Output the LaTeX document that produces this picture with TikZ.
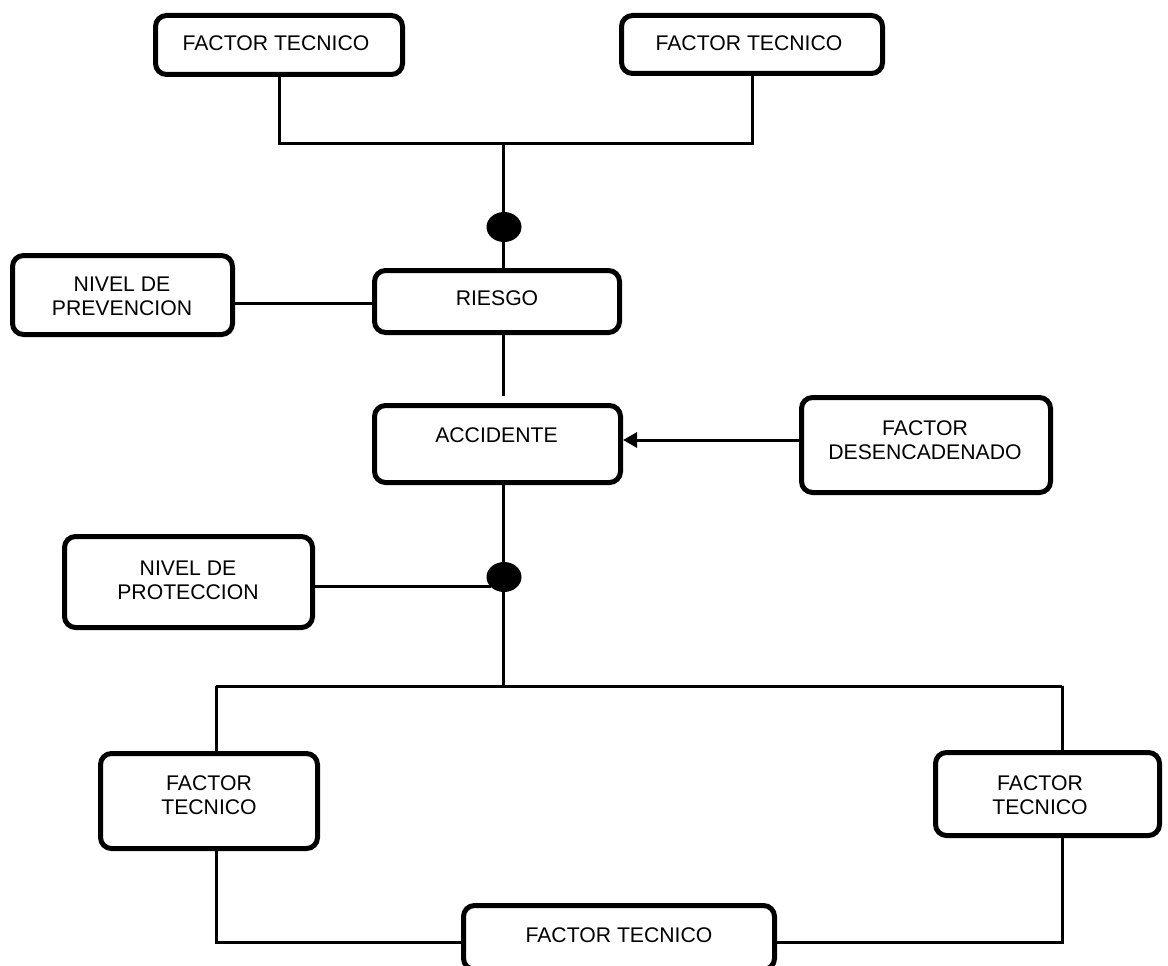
\documentclass[tikz,border=0pt]{standalone}
\usepackage{fontspec}
\setmainfont{Liberation Sans}
\usetikzlibrary{arrows.meta,shapes.geometric,backgrounds}
\begin{document}
\begin{tikzpicture}[x=1pt,y=-1pt,
  box/.style={draw=black,line width=5pt,rounded corners=11pt,fill=white,inner sep=0pt},
  txt/.style={inner sep=0pt,align=center,font=\fontsize{21.2}{24}\selectfont},
  conn/.style={draw=black,line width=3pt},
  dotnode/.style={ellipse,fill=black,inner sep=0pt,minimum width=35pt,minimum height=30pt},
  arr/.style={conn,-{Triangle[length=14pt,width=15pt]}}]
\useasboundingbox (0,0) rectangle (1168,966);
\clip (0,0) rectangle (1168,966);
% junction coordinates
\coordinate (j1) at (503,143);
\coordinate (lp) at (300,303);
\coordinate (lq) at (400,586);
\coordinate (ya) at (700,440);
\coordinate (j2) at (503,686);
\coordinate (jl) at (216,686);
\coordinate (jr) at (1062,686);
\coordinate (bl) at (216,942);
\coordinate (br) at (1062,942);
\coordinate (rs) at (503,396);
% box nodes
\node[box,minimum width=247pt,minimum height=59pt] (ft1) at (279,45) {};
\node[box,minimum width=261pt,minimum height=58pt] (ft2) at (752,44.5) {};
\node[box,minimum width=220pt,minimum height=79pt] (prev) at (122.5,295) {};
\node[box,minimum width=245pt,minimum height=62pt] (riesgo) at (497,301.5) {};
\node[box,minimum width=246pt,minimum height=77pt] (acc) at (497.5,444) {};
\node[box,minimum width=249pt,minimum height=95pt] (desenc) at (926,445) {};
\node[box,minimum width=248pt,minimum height=91pt] (prot) at (188.5,582) {};
\node[box,minimum width=217pt,minimum height=95pt] (ftl) at (209,801) {};
\node[box,minimum width=224pt,minimum height=83pt] (ftr) at (1047.5,794) {};
\node[box,minimum width=311pt,minimum height=64pt] (ftb) at (619,937.5) {};
% dots
\node[dotnode] (d1) at (504,227) {};
\node[dotnode] (d2) at (504,577) {};
% connectors behind the boxes
\begin{scope}[on background layer]
\draw[conn] (ft1.south) |- (j1) -| (ft2.south);
\draw[conn] (j1) -- (j1 |- riesgo.north);
\draw[conn] (j1 |- riesgo.south) -- (rs);
\draw[conn] (j1 |- acc.south) -- (j2);
\draw[conn] (jl) -- (jr);
\draw[conn] (jl) -- (jl |- ftl.north);
\draw[conn] (jr) -- (jr |- ftr.north);
\draw[conn] (jl |- ftl.south) -- (bl) -- (ftb.west |- bl);
\draw[conn] (jr |- ftr.south) -- (br) -- (ftb.east |- br);
\draw[conn] (prev.east |- lp) -- (riesgo.west |- lp);
\draw[conn] (prot.east |- lq) -- (d2.south west |- lq);
\end{scope}
\draw[arr] (desenc.west |- ya) -- (acc.east |- ya);
% texts
\node[txt] (ft1t) at (276,43) {FACTOR TECNICO};
\node[txt] (ft2t) at (749,43) {FACTOR TECNICO};
\node[txt] (prevt) at (122,296.5) {NIVEL DE\\PREVENCION};
\node[txt] (riesgot) at (497,298) {RIESGO};
\node[txt] (acct) at (496.5,435) {ACCIDENTE};
\node[txt] (desenct) at (925,440) {FACTOR\\DESENCADENADO};
\node[txt] (prott) at (188,580) {NIVEL DE\\PROTECCION};
\node[txt] (ftlt) at (209,795) {FACTOR\\TECNICO};
\node[txt] (ftrt) at (1040,795) {FACTOR\\TECNICO};
\node[txt] (ftbt) at (619,935) {FACTOR TECNICO};
\end{tikzpicture}
\end{document}
